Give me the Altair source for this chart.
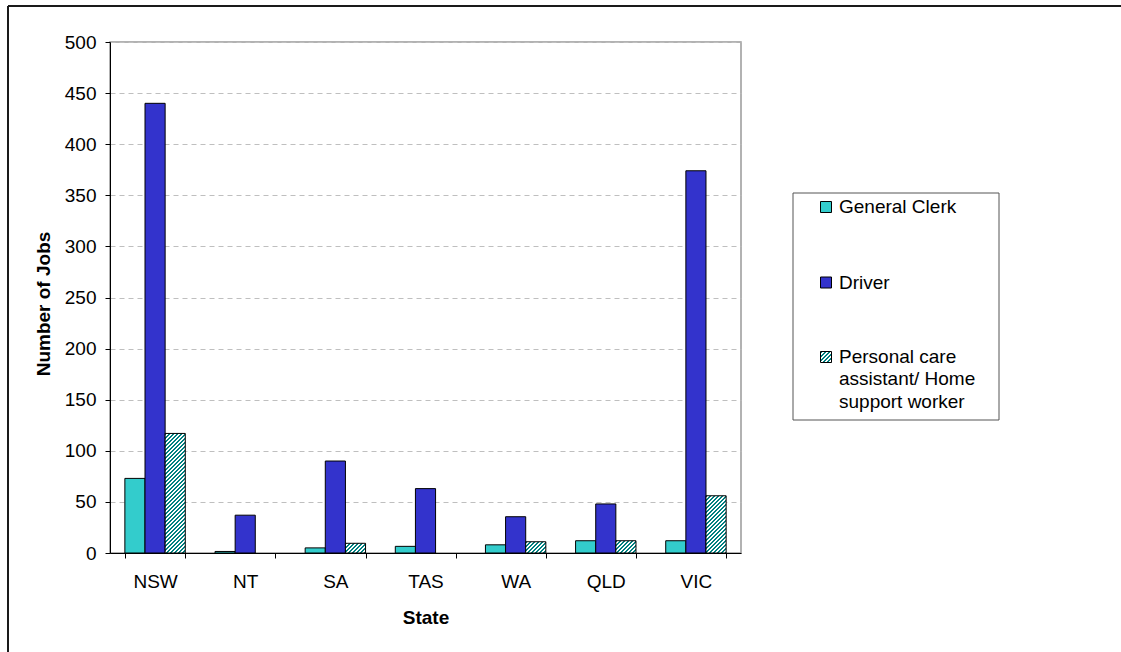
import altair as alt
import pandas as pd

# ---------------- data ----------------
states = ["NSW", "NT", "SA", "TAS", "WA", "QLD", "VIC"]
series_names = ["General Clerk", "Driver", "Personal care assistant/ Home support worker"]
clerk = [73, 1.5, 5, 6.5, 8, 12, 12]
driver = [440, 37, 90, 63, 35.5, 48, 374]
pca = [117, 0, 9.5, 0, 11, 12, 56]
y_ticks = list(range(0, 501, 50))
legend_lines = [["General Clerk"], ["Driver"], ["Personal care", "assistant/ Home", "support worker"]]

# ---------------- layout / style ----------------
W, H = 1121, 652
PLOT_W, PLOT_H = 631, 511
PAD_L, PAD_T = 110, 42
PAD_R = W - PAD_L - PLOT_W
PAD_B = H - PAD_T - PLOT_H
FONT = "Liberation Sans"
FS = 19
C_CLERK = "#33CCCC"
C_DRIVER = "#3333CC"
C_HATCH = "#008080"
P_INNER = 0.33
Y_MAX = 500

bar_w = (PLOT_W / len(states)) * (1 - P_INNER) / 3


def hatch(h_px, w_px, period=4.0, ink=C_HATCH):
    """Diagonal '/' stripes as a hard-stop linear gradient sized to the bar box."""
    r = h_px / w_px
    k = (1 + r) / (1 + r * r)
    total = w_px + h_px
    stops = []
    t = 0.0
    while t < total - 1e-9:
        a = t / total
        b = min((t + period / 2) / total, 1.0)
        c = min((t + period) / total, 1.0)
        stops += [
            alt.GradientStop(offset=a, color=ink),
            alt.GradientStop(offset=b, color=ink),
            alt.GradientStop(offset=b, color="white"),
            alt.GradientStop(offset=c, color="white"),
        ]
        t += period
    return alt.LinearGradient(gradient="linear", stops=stops, x1=0, y1=0, x2=k, y2=k * r)


x_enc = alt.X(
    "State:N",
    sort=states,
    scale=alt.Scale(domain=states, paddingInner=P_INNER, paddingOuter=P_INNER / 2),
    axis=alt.Axis(
        title="State", labelAngle=0, labelFont=FONT, labelFontSize=FS, labelColor="black",
        labelPadding=14, tickBand="extent", tickSize=5, tickColor="black",
        domainColor="black", domainWidth=1, grid=False,
        titleFont=FONT, titleFontSize=FS, titleFontWeight="bold", titleColor="black",
        titleY=55, titleBaseline="top",
    ),
)
xoff_enc = alt.XOffset("Series:N", scale=alt.Scale(domain=series_names, paddingInner=0, paddingOuter=0))
y_enc = alt.Y(
    "Jobs:Q",
    scale=alt.Scale(domain=[0, Y_MAX], nice=False),
    axis=alt.Axis(
        title="Number of Jobs", values=y_ticks, labelFont=FONT, labelFontSize=FS,
        labelColor="black", labelPadding=9, tickSize=5, tickColor="black",
        domainColor="black", domainWidth=1,
        grid=True, gridDash=[5, 4], gridColor="#bfbfbf", gridWidth=1,
        titleFont=FONT, titleFontSize=FS, titleFontWeight="bold", titleColor="black",
        titleAngle=270, titleBaseline="top", titleAlign="center",
        titleX=-76, titleY=PLOT_H / 2 + 6,
    ),
)

rows = []
for s, c, d in zip(states, clerk, driver):
    rows.append(dict(State=s, Series=series_names[0], Jobs=c))
    rows.append(dict(State=s, Series=series_names[1], Jobs=d))
df_solid = pd.DataFrame(rows)

solid = alt.Chart(df_solid).mark_bar(stroke="black", strokeWidth=1).encode(
    x=x_enc,
    xOffset=xoff_enc,
    y=y_enc,
    fill=alt.Fill("Series:N", scale=alt.Scale(domain=series_names[:2], range=[C_CLERK, C_DRIVER]), legend=None),
)

layers = [solid]
for s, p in zip(states, pca):
    if p <= 0:
        continue
    dfp = pd.DataFrame([dict(State=s, Series=series_names[2], Jobs=p)])
    layers.append(
        alt.Chart(dfp).mark_bar(fill=hatch(p * PLOT_H / Y_MAX, bar_w), stroke="black", strokeWidth=1).encode(
            x=x_enc, xOffset=xoff_enc, y=y_enc
        )
    )

# ---------------- legend (drawn by hand, pixel layout) ----------------
dummy = pd.DataFrame({"k": [0]})
LX0, LX1, LY0, LY1 = 793 - PAD_L, 999 - PAD_L, 193 - PAD_T, 420 - PAD_T
layers.append(
    alt.Chart(dummy).mark_rect(fill="white", stroke="#555555", strokeWidth=1).encode(
        x=alt.value(LX0), x2=alt.value(LX1), y=alt.value(LY0), y2=alt.value(LY1)
    )
)
sym_x = 826 - PAD_L
sym_y = [207 - PAD_T, 282.5 - PAD_T, 357 - PAD_T]
sym_fill = [C_CLERK, C_DRIVER, hatch(11, 11, period=4.0)]
for yy, f in zip(sym_y, sym_fill):
    layers.append(
        alt.Chart(dummy).mark_rect(fill=f, stroke="black", strokeWidth=1).encode(
            x=alt.value(sym_x - 5.5), x2=alt.value(sym_x + 5.5),
            y=alt.value(yy - 5.5), y2=alt.value(yy + 5.5),
        )
    )
text_x = 839 - PAD_L
first_baselines = [213 - PAD_T, 289 - PAD_T, 362.5 - PAD_T]
LINE_H = 22.5
for lines, yb in zip(legend_lines, first_baselines):
    for i, ln in enumerate(lines):
        layers.append(
            alt.Chart(dummy).mark_text(
                font=FONT, fontSize=FS, align="left", baseline="alphabetic", color="black"
            ).encode(x=alt.value(text_x), y=alt.value(yb + i * LINE_H), text=alt.value(ln))
        )

# ---------------- outer chart frame (top and left edges visible) ----------------
layers.append(
    alt.Chart(dummy).mark_rule(color="#1a1a1a", strokeWidth=2).encode(
        x=alt.value(8 - PAD_L), x2=alt.value(W - PAD_L), y=alt.value(6 - PAD_T)
    )
)
layers.append(
    alt.Chart(dummy).mark_rule(color="#1a1a1a", strokeWidth=2).encode(
        x=alt.value(8 - PAD_L), y=alt.value(6 - PAD_T), y2=alt.value(H - PAD_T)
    )
)

chart = (
    alt.layer(*layers)
    .properties(
        width=PLOT_W,
        height=PLOT_H,
        autosize=alt.AutoSizeParams(type="none"),
        padding={"left": PAD_L, "top": PAD_T, "right": PAD_R, "bottom": PAD_B},
        background="white",
    )
    .configure_view(stroke="#999999", strokeWidth=1.5)
    .configure_text(font=FONT)
)

chart.save("out.html", embed_options={"renderer": "svg", "actions": False})
